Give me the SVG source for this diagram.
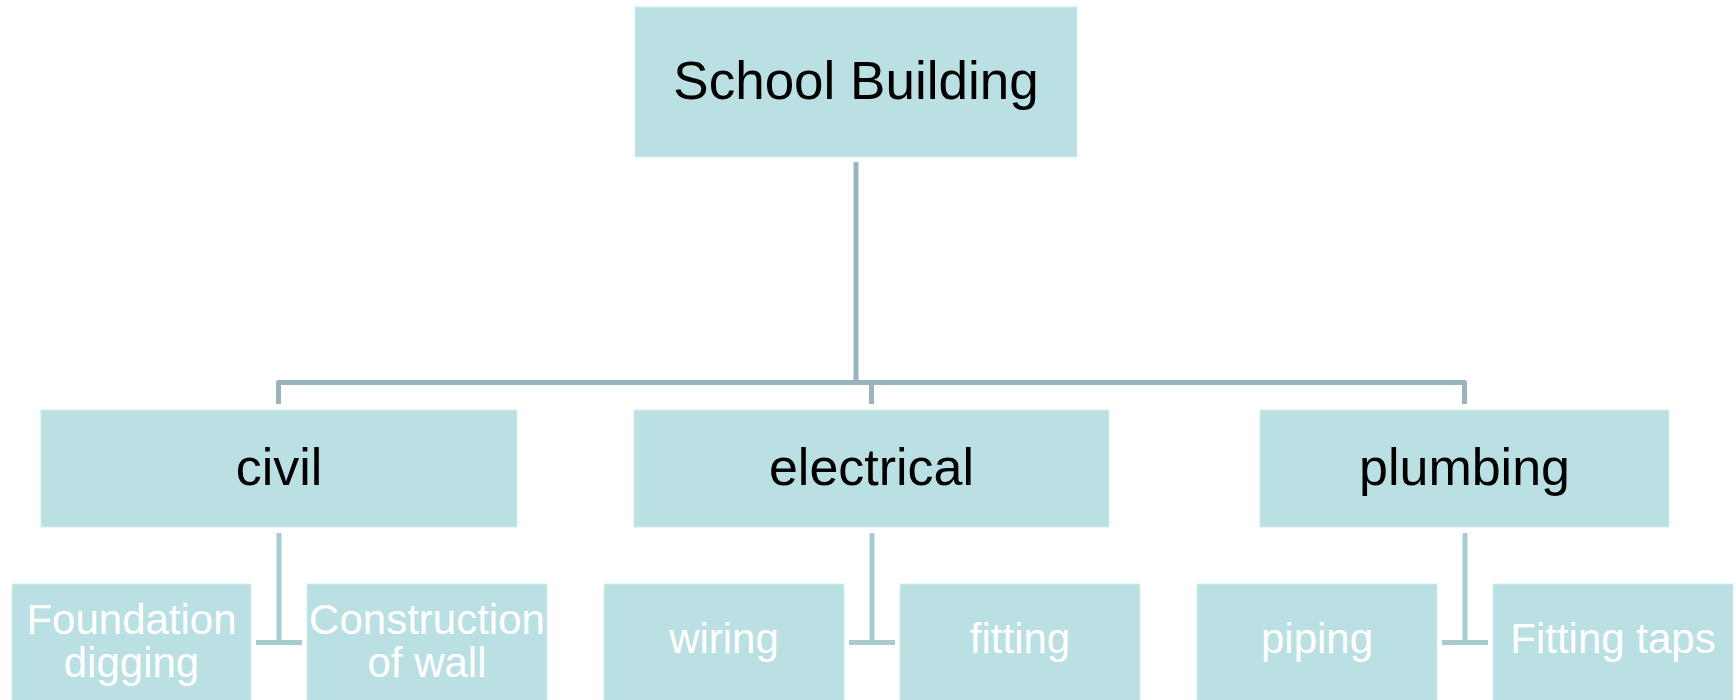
<svg xmlns="http://www.w3.org/2000/svg" width="1736" height="700" viewBox="0 0 1736 700">
<style>
.box{fill:#BBE0E3;stroke:#D4ECEE;stroke-width:1}
.t1{font-family:"Liberation Sans",Arial,sans-serif;font-size:53px;fill:#000;text-anchor:middle}
.t2{font-family:"Liberation Sans",Arial,sans-serif;font-size:52px;fill:#000;text-anchor:middle}
.t3{font-family:"Liberation Sans",Arial,sans-serif;font-size:42px;fill:#FFFFFF;text-anchor:middle}
.c1{fill:none;stroke:#98B5B9;stroke-width:5;stroke-linejoin:round}
.c2{fill:none;stroke:#A8CBCE;stroke-width:5}
</style>
<rect width="1736" height="700" fill="#FFFFFF"/>
<g id="connectors">
<path class="c1" d="M856 162 V382.5"/>
<path class="c1" d="M278.5 404 V382.5 H1464.5 V404"/>
<path class="c1" d="M871.5 382.5 V404"/>
<path class="c2" d="M279 533 V642.5 M256 642.5 H302"/>
<path class="c2" d="M872 533 V642.5 M849 642.5 H895"/>
<path class="c2" d="M1465 533 V642.5 M1442 642.5 H1488"/>
</g>
<g id="root">
<rect class="box" x="635" y="7" width="442" height="150"/>
<text class="t1" x="856" y="99">School Building</text>
</g>
<g id="civil">
<rect class="box" x="41" y="410" width="476" height="117"/>
<text class="t2" x="279" y="485">civil</text>
</g>
<g id="electrical">
<rect class="box" x="634" y="410" width="475" height="117"/>
<text class="t2" x="871.5" y="485">electrical</text>
</g>
<g id="plumbing">
<rect class="box" x="1260" y="410" width="409" height="117"/>
<text class="t2" x="1464.5" y="485">plumbing</text>
</g>
<g id="foundation">
<rect class="box" x="12" y="584" width="239" height="120"/>
<text class="t3" x="131.5" y="634">Foundation</text>
<text class="t3" x="131.5" y="677">digging</text>
</g>
<g id="construction">
<rect class="box" x="307" y="584" width="240" height="120"/>
<text class="t3" x="427" y="634">Construction</text>
<text class="t3" x="427" y="677">of wall</text>
</g>
<g id="wiring">
<rect class="box" x="604" y="584" width="240" height="120"/>
<text class="t3" x="724" y="653">wiring</text>
</g>
<g id="fitting">
<rect class="box" x="900" y="584" width="240" height="120"/>
<text class="t3" x="1020" y="653">fitting</text>
</g>
<g id="piping">
<rect class="box" x="1197" y="584" width="240" height="120"/>
<text class="t3" x="1317" y="653">piping</text>
</g>
<g id="fittingtaps">
<rect class="box" x="1493" y="584" width="240" height="120"/>
<text class="t3" x="1613" y="653">Fitting taps</text>
</g>
</svg>
